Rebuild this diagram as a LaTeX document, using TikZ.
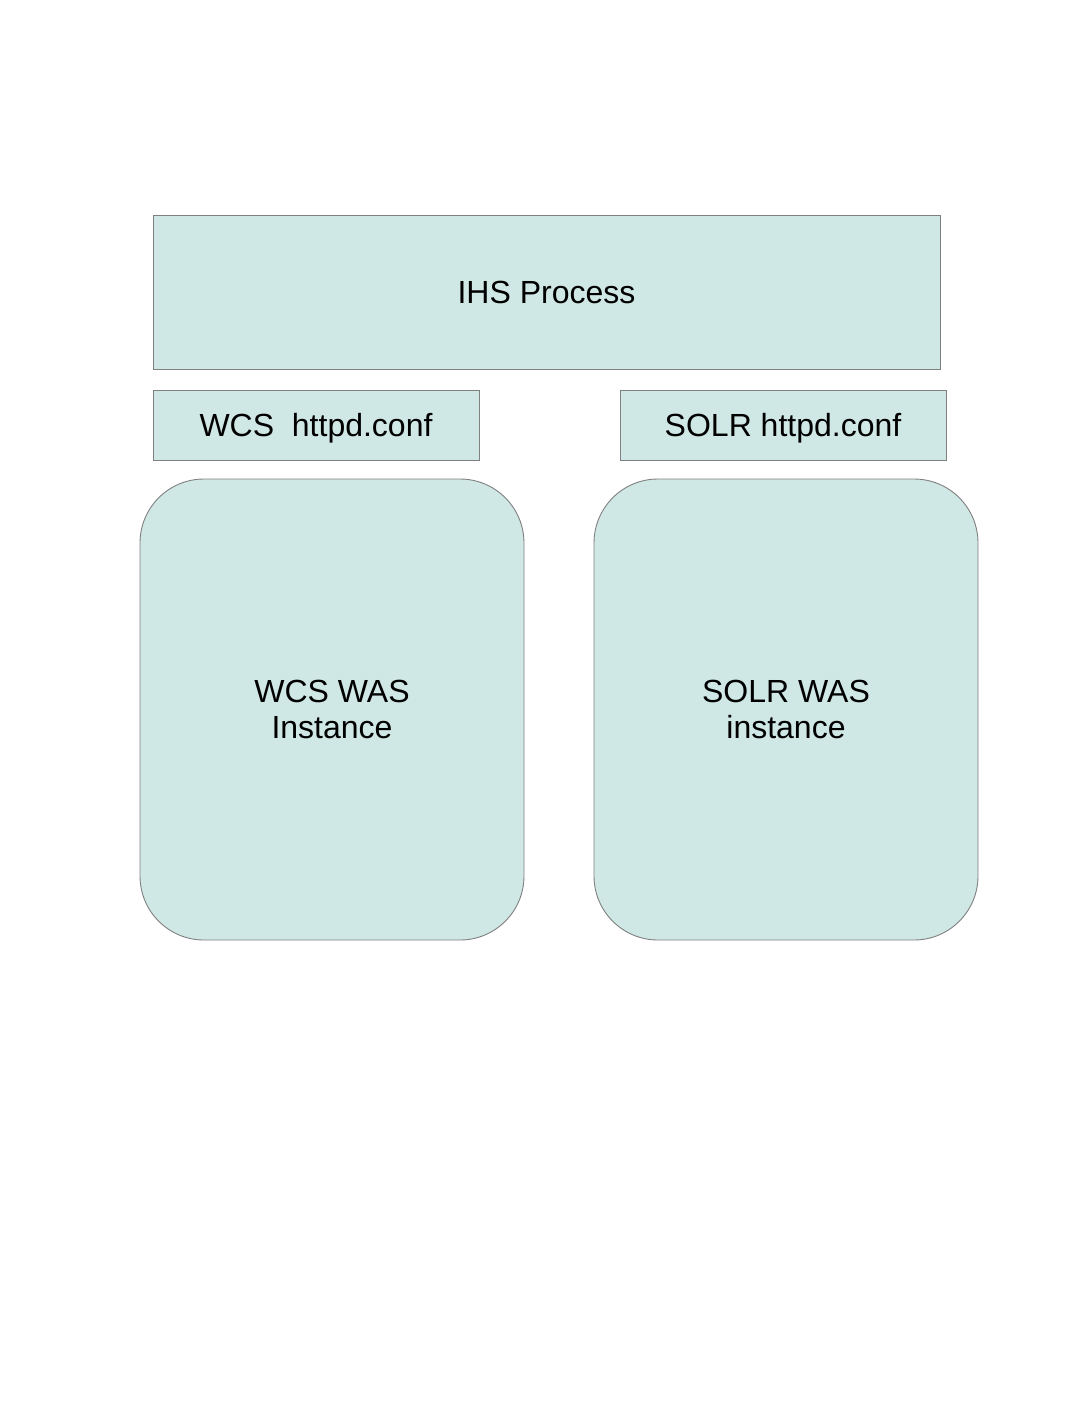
\documentclass[tikz,border=0pt]{standalone}
\usepackage{fontspec}
\setmainfont{Liberation Sans}
\usepackage{tikz}
\usetikzlibrary{positioning}

\definecolor{boxfill}{HTML}{CFE7E5}
\definecolor{boxline}{HTML}{808080}

\begin{document}
\begin{tikzpicture}[
    x=1pt, y=-1pt,
    box/.style={rectangle, draw=boxline, fill=boxfill, line width=0.9pt, inner sep=0pt,
      font=\fontsize{32}{36}\selectfont, align=center},
    process/.style={box, minimum width=787pt, minimum height=154pt},
    conf/.style={box, text depth=0pt, minimum width=326pt, minimum height=70pt},
    instance/.style={box, rounded corners=64pt, minimum width=384pt, minimum height=461pt}
  ]
  \useasboundingbox (0,0) rectangle (1088,1408);
  \node[process] (ihs) at (546.5,292) {IHS Process};

  \node[conf] (wcsconf) at (316,425) {WCS\ \ httpd.conf};
  \node[conf] (solrconf) at (783,425) {SOLR httpd.conf};

  \node[instance] (wcswas) at (332,709.5) {WCS WAS\\Instance};
  \node[instance] (solrwas) at (786,709.5) {SOLR WAS\\instance};
\end{tikzpicture}
\end{document}
